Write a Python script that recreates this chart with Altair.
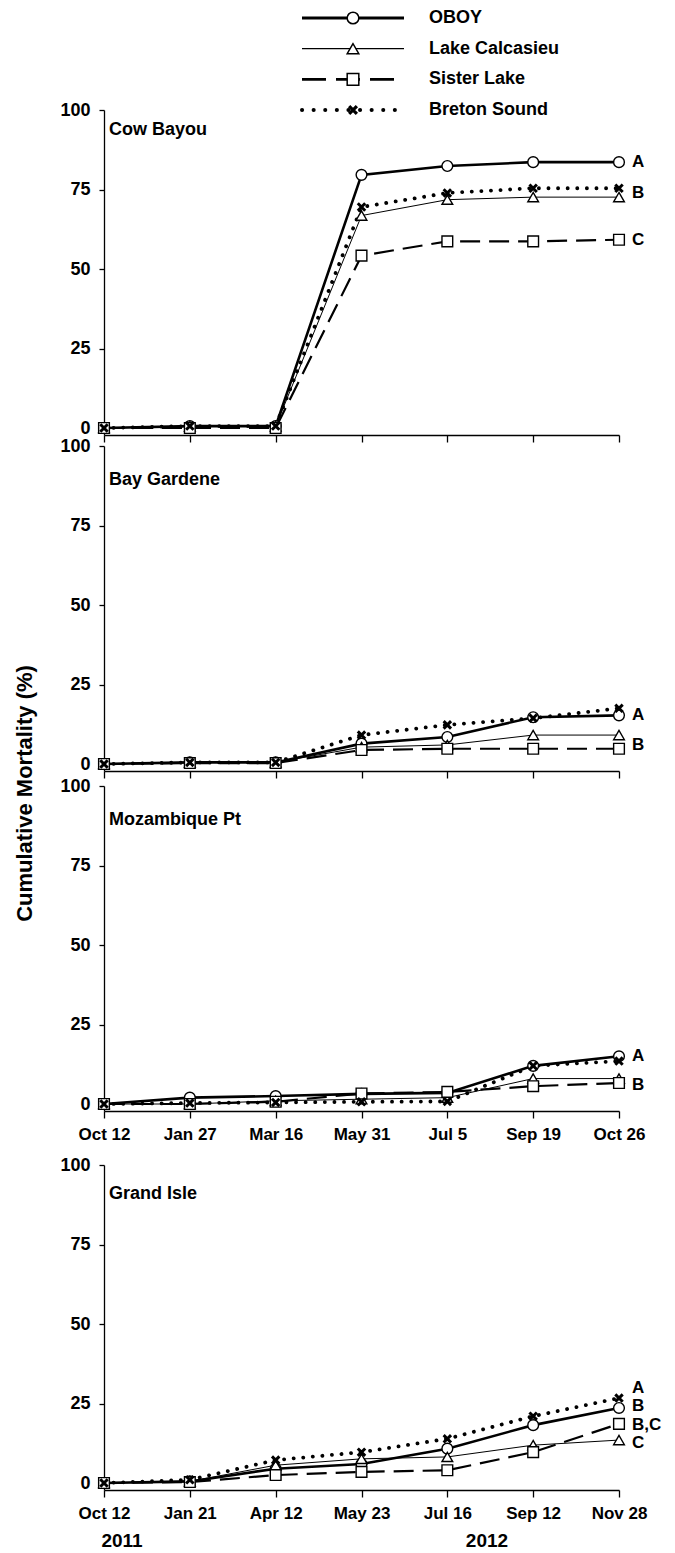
import json
import altair as alt
import pandas as pd

FONT = "Liberation Sans"

series_names = ["OBOY", "Lake Calcasieu", "Sister Lake", "Breton Sound"]
panel_names = ["Cow Bayou", "Bay Gardene", "Mozambique Pt", "Grand Isle"]
dates_a = ["Oct 12", "Jan 27", "Mar 16", "May 31", "Jul 5", "Sep 19", "Oct 26"]
dates_b = ["Oct 12", "Jan 21", "Apr 12", "May 23", "Jul 16", "Sep 12", "Nov 28"]
year_labels = ["2011", "2012"]

# Cow Bayou
cow_oboy = [0, 0.6, 0.6, 79.6, 82.4, 83.6, 83.6]
cow_calc = [0, 0.5, 0.5, 66.8, 71.8, 72.6, 72.6]
cow_sister = [0, 0, 0, 54.2, 58.7, 58.7, 59.2]
cow_breton = [0, 0.6, 0.6, 69.5, 73.9, 75.4, 75.4]
cow_letters = ["A", "B", "C"]
cow_letter_y = [83.6, 74.0, 59.2]

# Bay Gardene
bay_oboy = [0, 0.5, 0.5, 6.4, 8.5, 14.7, 15.3]
bay_calc = [0, 0.5, 0.5, 5.3, 6.0, 9.1, 9.1]
bay_sister = [0, 0.3, 0.3, 4.4, 4.8, 4.8, 4.8]
bay_breton = [0, 0.5, 0.5, 9.1, 12.3, 14.4, 17.5]
bay_letters = ["A", "B"]
bay_letter_y = [15.5, 6.0]

# Mozambique Pt
moz_oboy = [0, 2.0, 2.5, 3.2, 3.5, 12.0, 15.0]
moz_calc = [0, 0, 1.0, 1.5, 2.0, 8.0, 8.0]
moz_sister = [0, 0, 0.7, 3.3, 3.8, 5.6, 6.6]
moz_breton = [0, 0.3, 0.5, 0.7, 0.8, 12.0, 13.5]
moz_letters = ["A", "B"]
moz_letter_y = [15.0, 6.0]

# Grand Isle
gi_oboy = [0, 0.5, 4.5, 6.0, 10.8, 18.2, 23.6]
gi_calc = [0, 0.5, 5.6, 7.6, 8.2, 11.9, 13.5]
gi_sister = [0, 0.3, 2.5, 3.5, 4.0, 9.7, 18.6]
gi_breton = [0, 1.0, 7.2, 9.7, 13.9, 21.0, 26.7]
gi_letters = ["A", "B", "B,C", "C"]
gi_letter_y = [29.9, 24.2, 18.2, 12.6]

X_PATH = "M-1,-1L1,1M-1,1L1,-1"

LINE_STYLE = {
    "OBOY": dict(strokeWidth=2.6),
    "Lake Calcasieu": dict(strokeWidth=1.0),
    "Sister Lake": dict(strokeWidth=2.2, strokeDash=[20, 9]),
    "Breton Sound": dict(strokeWidth=3.8, strokeDash=[0.1, 9.5], strokeCap="round"),
}
LEG_STYLE = {
    "OBOY": dict(strokeWidth=2.8),
    "Lake Calcasieu": dict(strokeWidth=1.2),
    "Sister Lake": dict(strokeWidth=2.6, strokeDash=[24, 10]),
    "Breton Sound": dict(strokeWidth=4.0, strokeDash=[0.1, 11.5], strokeCap="round"),
}

W, H = 515, 325


def make_panel(name, values, letters, letter_y, tick_labels, title_y,
               ytitle=False, years=False):
    rows = []
    for s, vals in zip(series_names, values):
        for i, v in enumerate(vals):
            rows.append(dict(series=s, idx=i, value=v))
    df = pd.DataFrame(rows)

    xkw = dict(values=list(range(7)), title=None, tickSize=7, labelPadding=8,
               labelFontSize=17, labelFlush=False, labelOverlap=False,
               labels=tick_labels is not None)
    if tick_labels is not None:
        xkw["labelExpr"] = f"{json.dumps(tick_labels)}[datum.value]"
    ykw = dict(values=[0, 25, 50, 75, 100], tickSize=5, labelPadding=9,
               labelFontSize=18, labelFlush=False)
    if ytitle:
        ykw.update(title="Cumulative Mortality (%)", titleX=-80, titleY=347,
                   titleAlign="center", titleBaseline="middle",
                   titleFontSize=22, titleFontWeight="bold", titleFont=FONT)
    else:
        ykw["title"] = None

    X = alt.X("idx:Q", scale=alt.Scale(domain=[0, 6], nice=False, zero=False),
              axis=alt.Axis(**xkw))
    Y = alt.Y("value:Q", scale=alt.Scale(domain=[-2.2, 100], nice=False, zero=False),
              axis=alt.Axis(**ykw))

    layers = []
    for s in series_names:
        layers.append(
            alt.Chart(df).transform_filter(alt.datum.series == s)
            .mark_line(color="black", **LINE_STYLE[s]).encode(x=X, y=Y)
        )
    open_pts = (
        alt.Chart(df)
        .transform_filter(alt.FieldOneOfPredicate(field="series", oneOf=series_names[:3]))
        .mark_point(filled=True, fill="white", stroke="black", strokeWidth=1.4,
                    size=115, opacity=1)
        .encode(x=X, y=Y,
                shape=alt.Shape("series:N",
                                scale=alt.Scale(domain=series_names[:3],
                                                range=["circle", "triangle-up", "square"]),
                                legend=None))
    )
    x_pts = (
        alt.Chart(df).transform_filter(alt.datum.series == series_names[3])
        .mark_point(shape=X_PATH, filled=False, color="black", stroke="black",
                    strokeWidth=3, size=55, opacity=1)
        .encode(x=X, y=Y)
    )
    ldf = pd.DataFrame({"letter": letters, "value": letter_y, "idx": [6] * len(letters)})
    letter_layer = alt.Chart(ldf).mark_text(
        align="left", baseline="middle", dx=13, fontSize=17, fontWeight="bold",
        font=FONT, color="black").encode(x=X, y=Y, text="letter:N")
    title_layer = alt.Chart(pd.DataFrame({"t": [name]})).mark_text(
        align="left", baseline="middle", fontSize=18, fontWeight="bold",
        font=FONT, color="black").encode(text="t:N", x=alt.value(5), y=alt.value(title_y))
    all_layers = layers + [open_pts, x_pts, letter_layer, title_layer]
    if years:
        for lab, px in zip(year_labels, [18, 383]):
            all_layers.append(
                alt.Chart(pd.DataFrame({"t": [lab]})).mark_text(
                    align="center", baseline="middle", fontSize=19, fontWeight="bold",
                    font=FONT, color="black")
                .encode(text="t:N", x=alt.value(px), y=alt.value(376))
            )
    return alt.layer(*all_layers).properties(width=W, height=H)


def spacer(h):
    return (alt.Chart(pd.DataFrame({"t": [""]})).mark_text()
            .encode(text="t:N", x=alt.value(0), y=alt.value(0))
            .properties(width=W, height=h))


p1 = make_panel(panel_names[0], [cow_oboy, cow_calc, cow_sister, cow_breton],
                cow_letters, cow_letter_y, None, 20)
p2 = make_panel(panel_names[1], [bay_oboy, bay_calc, bay_sister, bay_breton],
                bay_letters, bay_letter_y, None, 34, ytitle=True)
p3 = make_panel(panel_names[2], [moz_oboy, moz_calc, moz_sister, moz_breton],
                moz_letters, moz_letter_y, dates_a, 34)
p4 = make_panel(panel_names[3], [gi_oboy, gi_calc, gi_sister, gi_breton],
                gi_letters, gi_letter_y, dates_b, 29, years=True)

# legend built from the series list
leg_line = pd.DataFrame([dict(series=s, row=r, lx=lx)
                         for r, s in enumerate(series_names) for lx in (0, 1)])
leg_pt = pd.DataFrame([dict(series=s, row=r, lx=0.5) for r, s in enumerate(series_names)])
leg_txt = pd.DataFrame([dict(series=s, row=r, lx=1) for r, s in enumerate(series_names)])
LX = alt.X("lx:Q", scale=alt.Scale(domain=[0, 1], range=[198, 300]), axis=None)
LY = alt.Y("row:Q", scale=alt.Scale(domain=[0, 3], range=[0, 92]), axis=None)
leg_layers = []
for s in series_names:
    leg_layers.append(alt.Chart(leg_line).transform_filter(alt.datum.series == s)
                      .mark_line(color="black", **LEG_STYLE[s]).encode(x=LX, y=LY))
leg_layers.append(
    alt.Chart(leg_pt)
    .transform_filter(alt.FieldOneOfPredicate(field="series", oneOf=series_names[:3]))
    .mark_point(filled=True, fill="white", stroke="black", strokeWidth=1.5, size=135, opacity=1)
    .encode(x=LX, y=LY,
            shape=alt.Shape("series:N",
                            scale=alt.Scale(domain=series_names[:3],
                                            range=["circle", "triangle-up", "square"]),
                            legend=None)))
leg_layers.append(
    alt.Chart(leg_pt).transform_filter(alt.datum.series == series_names[3])
    .mark_point(shape=X_PATH, filled=False, color="black", stroke="black",
                strokeWidth=3.2, size=60, opacity=1).encode(x=LX, y=LY))
leg_layers.append(
    alt.Chart(leg_txt).mark_text(align="left", baseline="middle", dx=25, fontSize=18,
                                 fontWeight="bold", font=FONT, color="black")
    .encode(x=LX, y=LY, text="series:N"))
legend_chart = alt.layer(*leg_layers).properties(width=W, height=92)

chart = (
    alt.vconcat(legend_chart, p1, spacer(11), p2, spacer(15), p3, spacer(54), p4,
                spacing=0, bounds="flush")
    .properties(padding={"left": 5, "top": 1, "right": 5, "bottom": 5})
    .configure(font=FONT, background="white")
    .configure_view(stroke=None)
    .configure_axis(labelFont=FONT, labelFontWeight="bold", labelColor="black",
                    domainColor="black", tickColor="black", domainWidth=1.3,
                    tickWidth=1.3, grid=False, titleColor="black")
)

chart.save("out.html", embed_options={"renderer": "svg", "actions": False})
